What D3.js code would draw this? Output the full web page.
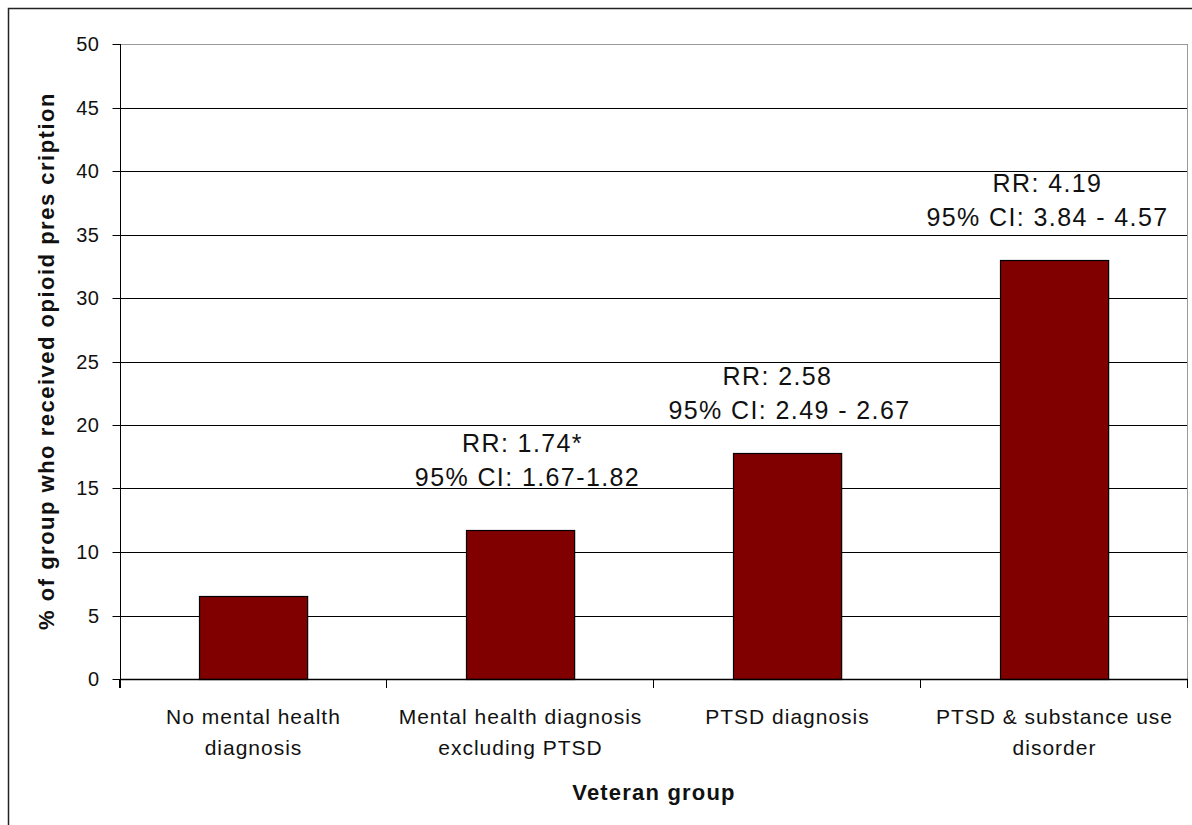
<!DOCTYPE html>
<html>
<head>
<meta charset="utf-8">
<script src="https://cdn.jsdelivr.net/npm/d3@7"></script>
<style>
  html, body { margin: 0; padding: 0; background: #fff; }
  svg { display: block; }
  text { font-family: Arial, "Liberation Sans", sans-serif; fill: #111; }
</style>
</head>
<body>
<svg id="chart" width="1192" height="825"></svg>
<script>
// ---- data ----
const categories = [
  ["No mental health", "diagnosis"],
  ["Mental health diagnosis", "excluding PTSD"],
  ["PTSD diagnosis"],
  ["PTSD & substance use", "disorder"]
];
const values = [6.5, 11.7, 17.8, 33.0];
const annotations = [
  null,
  ["RR: 1.74*", "95% CI: 1.67-1.82"],
  ["RR: 2.58", "95% CI: 2.49 - 2.67"],
  ["RR: 4.19", "95% CI: 3.84 - 4.57"]
];
const yTicks = [0, 5, 10, 15, 20, 25, 30, 35, 40, 45, 50];
const yLabel = "% of group who received opioid pres cription";
const xLabel = "Veteran group";

// ---- layout (styles/positions kept separate from data) ----
const annLayout = [
  null,
  { gap: 44, dx: [2, 7] },
  { gap: 34, dx: [-10, 2] },
  { gap: 34, dx: [-7, -7] }
];
const plot = { left: 120, right: 1188, top: 44, bottom: 679 };

const svg = d3.select("#chart");

// outer border
svg.append("rect")
  .attr("x", 8.5).attr("y", 8.5)
  .attr("width", 1200).attr("height", 900)
  .attr("fill", "none").attr("stroke", "#222").attr("stroke-width", 1.5);

const x = d3.scaleBand()
  .domain(d3.range(categories.length))
  .range([plot.left, plot.right])
  .paddingInner(0.595)
  .paddingOuter(0.2975);
const step = x.step();

const y = d3.scaleLinear().domain([0, 50]).range([plot.bottom, plot.top]);

// gridlines
svg.append("g").selectAll("line")
  .data(yTicks.filter(d => d > 0))
  .join("line")
  .attr("x1", plot.left).attr("x2", plot.right - 1)
  .attr("y1", d => Math.round(y(d)) + 0.5).attr("y2", d => Math.round(y(d)) + 0.5)
  .attr("stroke", d => d === 50 ? "#999" : "#000")
  .attr("stroke-width", 1);

// right border of plot area
svg.append("line")
  .attr("x1", plot.right - 0.5).attr("x2", plot.right - 0.5)
  .attr("y1", y(50)).attr("y2", y(0))
  .attr("stroke", "#999").attr("stroke-width", 1);

// y axis
const yAxis = d3.axisLeft(y).tickValues(yTicks).tickSize(8).tickPadding(13);
const gy = svg.append("g")
  .attr("transform", `translate(${plot.left + 0.5},0)`)
  .call(yAxis);
gy.select(".domain").remove();
gy.selectAll(".tick line").attr("stroke", "#000");
gy.selectAll(".tick").attr("transform", d => `translate(0,${Math.round(y(d)) + 0.5})`);
gy.selectAll(".tick text")
  .style("font-size", "20px")
  .style("letter-spacing", "0.5px")
  .attr("fill", "#111")
  .attr("dy", "0.34em");
gy.append("line")
  .attr("x1", 0).attr("x2", 0)
  .attr("y1", y(50)).attr("y2", y(0) + 9)
  .attr("stroke", "#000");

// bars
svg.append("g").selectAll("rect")
  .data(values)
  .join("rect")
  .attr("x", (d, i) => Math.round(x(i)) + 0.5)
  .attr("y", d => Math.round(y(d)) + 0.5)
  .attr("width", x.bandwidth())
  .attr("height", d => y(0) - Math.round(y(d)))
  .attr("fill", "#800000")
  .attr("stroke", "#000")
  .attr("stroke-width", 1.2);

// x axis line and category boundary ticks
svg.append("line")
  .attr("x1", plot.left).attr("x2", plot.right)
  .attr("y1", Math.round(y(0)) + 0.5).attr("y2", Math.round(y(0)) + 0.5)
  .attr("stroke", "#000").attr("stroke-width", 1.3);
svg.append("g").selectAll("line")
  .data(d3.range(categories.length + 1))
  .join("line")
  .attr("x1", i => Math.round(plot.left + i * step) - 0.5)
  .attr("x2", i => Math.round(plot.left + i * step) - 0.5)
  .attr("y1", y(0)).attr("y2", y(0) + 9)
  .attr("stroke", "#000");

// category labels
const catG = svg.append("g");
categories.forEach((lines, i) => {
  const cx = x(i) + x.bandwidth() / 2;
  const t = catG.append("text")
    .attr("text-anchor", "middle")
    .style("font-size", "21px")
    .style("letter-spacing", "1px");
  lines.forEach((ln, j) => {
    t.append("tspan").attr("x", cx).attr("y", 724 + j * 31).text(ln);
  });
});

// annotations
annotations.forEach((lines, i) => {
  if (!lines) return;
  const L = annLayout[i];
  const cx = x(i) + x.bandwidth() / 2;
  const base2 = y(values[i]) - L.gap;
  lines.forEach((ln, j) => {
    svg.append("text")
      .attr("x", cx + L.dx[j])
      .attr("y", base2 - (lines.length - 1 - j) * 34)
      .attr("text-anchor", "middle")
      .style("font-size", "25px")
      .style("letter-spacing", "1.4px")
      .attr("fill", "#222")
      .text(ln);
  });
});

// axis titles
svg.append("text")
  .attr("transform", `translate(54,${361}) rotate(-90)`)
  .attr("text-anchor", "middle")
  .style("font-size", "22px")
  .style("font-weight", "bold")
  .style("letter-spacing", "1.5px")
  .text(yLabel);

svg.append("text")
  .attr("x", (plot.left + plot.right) / 2)
  .attr("y", 800)
  .attr("text-anchor", "middle")
  .style("font-size", "22px")
  .style("font-weight", "bold")
  .style("letter-spacing", "1.2px")
  .text(xLabel);
</script>
</body>
</html>
